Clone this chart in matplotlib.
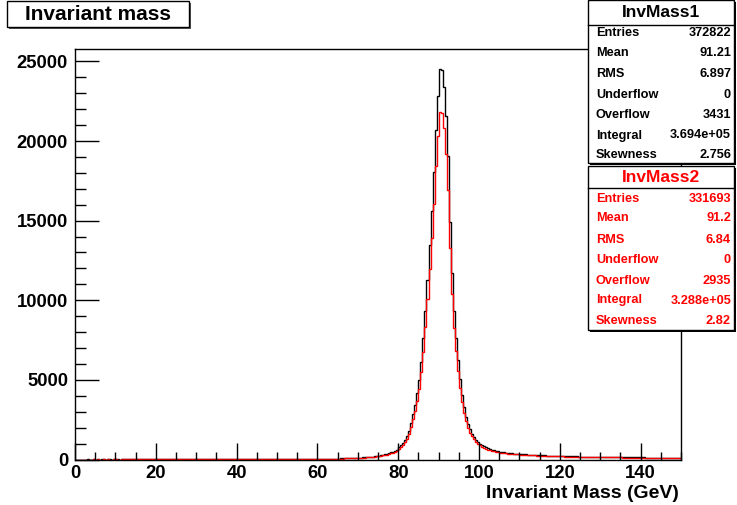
import numpy as np
import matplotlib
matplotlib.use("Agg")
import matplotlib.pyplot as plt
from matplotlib.patches import Rectangle
from matplotlib.ticker import MultipleLocator, FixedLocator

plt.rcParams["font.family"] = ["Liberation Sans", "DejaVu Sans"]
plt.rcParams["font.weight"] = "bold"

# Binning: 0-150 GeV in 0.5 GeV bins
X_MIN, X_MAX, BIN_WIDTH = 0.0, 150.0, 0.5

# InvMass1 (black) bin contents, 10 bins (5 GeV) per row
inv_mass1 = [
    0, 0, 0, 0, 0, 0, 1, 0, 0, 1,
    0, 1, 0, 1, 1, 0, 1, 1, 0, 1,
    1, 1, 0, 1, 1, 2, 1, 1, 1, 2,
    1, 2, 2, 1, 2, 2, 2, 1, 2, 2,
    2, 3, 2, 2, 3, 2, 3, 3, 2, 3,
    3, 3, 4, 3, 3, 4, 4, 3, 4, 4,
    4, 5, 4, 5, 5, 4, 5, 6, 5, 6,
    6, 6, 7, 6, 7, 7, 8, 7, 8, 8,
    8, 9, 9, 9, 10, 10, 10, 11, 11, 12,
    12, 12, 13, 13, 14, 14, 15, 15, 16, 16,
    17, 18, 19, 19, 20, 21, 22, 23, 24, 25,
    26, 27, 28, 30, 31, 32, 34, 35, 37, 38,
    40, 42, 44, 46, 48, 50, 52, 54, 57, 59,
    62, 66, 70, 74, 79, 84, 89, 95, 101, 105,
    110, 118, 127, 137, 148, 160, 173, 188, 204, 221,
    240, 260, 285, 315, 350, 390, 440, 490, 550, 620,
    760, 880, 1020, 1200, 1450, 1800, 2300, 2850, 3450, 4150,
    5000, 6150, 7600, 9350, 11300, 13450, 15600, 18050, 20700, 22800,
    24550, 24430, 23400, 21550, 19050, 14900, 11700, 9300, 7650, 6250,
    5050, 4050, 3300, 2700, 2250, 1900, 1630, 1420, 1250, 1110,
    990, 900, 820, 755, 700, 650, 610, 575, 545, 515,
    490, 468, 448, 430, 414, 400, 387, 375, 364, 354,
    345, 336, 327, 318, 310, 302, 295, 288, 281, 275,
    269, 263, 257, 251, 246, 241, 236, 231, 226, 222,
    218, 214, 210, 206, 202, 199, 196, 193, 190, 187,
    184, 181, 178, 176, 173, 171, 168, 166, 164, 162,
    160, 158, 156, 154, 152, 150, 148, 147, 145, 143,
    142, 140, 139, 137, 136, 134, 133, 132, 130, 129,
    128, 127, 125, 124, 123, 122, 121, 120, 119, 118,
    117, 116, 115, 114, 113, 112, 111, 110, 109, 108,
]

# InvMass2 (red) bin contents
inv_mass2 = [
    0, 0, 0, 0, 0, 0, 0, 0, 0, 1,
    0, 1, 0, 0, 1, 0, 1, 0, 0, 1,
    1, 0, 0, 1, 1, 1, 1, 1, 1, 1,
    1, 2, 1, 1, 2, 1, 2, 1, 2, 2,
    2, 2, 2, 2, 2, 2, 3, 2, 2, 3,
    3, 3, 3, 3, 3, 3, 4, 3, 3, 4,
    4, 4, 4, 4, 4, 4, 5, 5, 4, 5,
    5, 5, 6, 5, 6, 6, 7, 6, 7, 7,
    7, 8, 8, 8, 9, 9, 9, 10, 10, 11,
    11, 11, 12, 12, 12, 12, 13, 13, 14, 14,
    15, 16, 17, 17, 18, 19, 20, 20, 21, 22,
    23, 24, 25, 27, 28, 28, 30, 31, 33, 34,
    36, 37, 39, 41, 43, 45, 46, 48, 51, 53,
    55, 59, 62, 66, 70, 75, 79, 85, 90, 93,
    98, 105, 113, 122, 132, 142, 154, 167, 182, 197,
    214, 231, 254, 280, 312, 347, 392, 436, 490, 552,
    676, 783, 908, 1068, 1290, 1602, 2047, 2536, 3070, 3694,
    4450, 5470, 6760, 8320, 10060, 11970, 13880, 16060, 18420, 20290,
    21850, 21740, 20830, 19180, 16950, 13260, 10410, 8280, 6810, 5560,
    4490, 3600, 2940, 2400, 2000, 1690, 1450, 1260, 1110, 990,
    880, 800, 730, 670, 625, 580, 545, 510, 485, 460,
    435, 415, 400, 383, 368, 356, 344, 334, 324, 315,
    307, 299, 291, 283, 276, 269, 263, 256, 250, 245,
    239, 234, 229, 223, 219, 214, 210, 206, 201, 198,
    194, 190, 187, 183, 180, 177, 174, 172, 169, 166,
    164, 161, 158, 157, 154, 152, 150, 148, 146, 144,
    142, 141, 139, 137, 135, 134, 132, 131, 129, 127,
    126, 125, 124, 122, 121, 119, 118, 117, 116, 115,
    114, 113, 111, 110, 109, 109, 108, 107, 106, 105,
    104, 103, 102, 101, 101, 100, 99, 98, 97, 96,
]

stat_labels = ["Entries", "Mean", "RMS", "Underflow", "Overflow", "Integral", "Skewness"]
stats1 = ["372822", "91.21", "6.897", "0", "3431", "3.694e+05", "2.756"]
stats2 = ["331693", "91.2", "6.84", "0", "2935", "3.288e+05", "2.82"]

x_ticks = [0, 20, 40, 60, 80, 100, 120, 140]
y_ticks = [0, 5000, 10000, 15000, 20000, 25000]

W, H = 737, 505
fig = plt.figure(figsize=(W / 100, H / 100), dpi=100)
fig.patch.set_facecolor("white")

ax = fig.add_axes([75 / W, (H - 459.5) / H, 606 / W, 410.5 / H])
edges = np.linspace(X_MIN, X_MAX, len(inv_mass1) + 1)
ax.stairs(inv_mass1, edges, color="black", lw=1.0, baseline=None)
ax.stairs(inv_mass2, edges, color="#ff0000", lw=1.0, baseline=None)

ax.set_xlim(X_MIN, X_MAX)
ax.set_ylim(0, 1.05 * max(inv_mass1))
ax.xaxis.set_major_locator(FixedLocator(x_ticks))
ax.yaxis.set_major_locator(FixedLocator(y_ticks))
ax.xaxis.set_minor_locator(MultipleLocator(5))
ax.yaxis.set_minor_locator(MultipleLocator(1000))
ax.tick_params(which="both", direction="in", top=False, right=False, width=1)
ax.tick_params(axis="x", which="major", length=12, pad=4, labelsize=13.3)
ax.tick_params(axis="x", which="minor", length=6)
ax.tick_params(axis="y", which="major", length=17, pad=5, labelsize=13.3)
ax.tick_params(axis="y", which="minor", length=8)
for lab in ax.get_xticklabels() + ax.get_yticklabels():
    lab.set_fontweight("bold")
for sp in ax.spines.values():
    sp.set_linewidth(1.0)

fig.text(679 / W, 1 - 493 / H, "Invariant Mass (GeV)", ha="right", va="center",
         fontsize=14, fontweight="bold")


def fig_rect(x0, y0, x1, y1, **kw):
    return Rectangle((x0 / W, 1 - y1 / H), (x1 - x0) / W, (y1 - y0) / H,
                     transform=fig.transFigure, **kw)


# Title box
fig.patches.append(fig_rect(9, 3, 191, 29, fc="#555555", ec="none", zorder=5))
fig.patches.append(fig_rect(7, 1, 189, 27, fc="white", ec="black", lw=1, zorder=6))
fig.text(98 / W, 1 - 14.5 / H, "Invariant mass", ha="center", va="center",
         fontsize=15, fontweight="bold", zorder=7)


def stats_box(y_top, y_bot, sep_y, title, values, color, row_y):
    fig.patches.append(fig_rect(590, y_top + 2, 736, y_bot + 2, fc="black", ec="none", zorder=8))
    fig.patches.append(fig_rect(588, y_top, 734, y_bot, fc="white", ec="black", lw=1, zorder=9))
    fig.add_artist(plt.Line2D([588 / W, 734 / W], [1 - sep_y / H, 1 - sep_y / H],
                              transform=fig.transFigure, color="black", lw=1, zorder=10))
    fig.text(661 / W, 1 - (y_top + sep_y) / 2 / H, title, ha="center", va="center",
             fontsize=12.5, fontweight="bold", color=color, zorder=11)
    for i, (lab, val) in enumerate(zip(stat_labels, values)):
        yy = 1 - row_y[i] / H
        fig.text(596 / W, yy, lab, ha="left", va="center", fontsize=9.2,
                 fontweight="bold", color=color, zorder=11)
        fig.text(731 / W, yy, val, ha="right", va="center", fontsize=9.2,
                 fontweight="bold", color=color, zorder=11)


stats_box(0, 163, 25, "InvMass1", stats1, "black",
          [33, 53, 74, 95, 115.5, 135.5, 155.5])
stats_box(166, 330, 188, "InvMass2", stats2, "#ff0000",
          [198.5, 218.5, 240, 260, 280.5, 300.5, 321])

fig.savefig("out.png", dpi=100, facecolor="white")
